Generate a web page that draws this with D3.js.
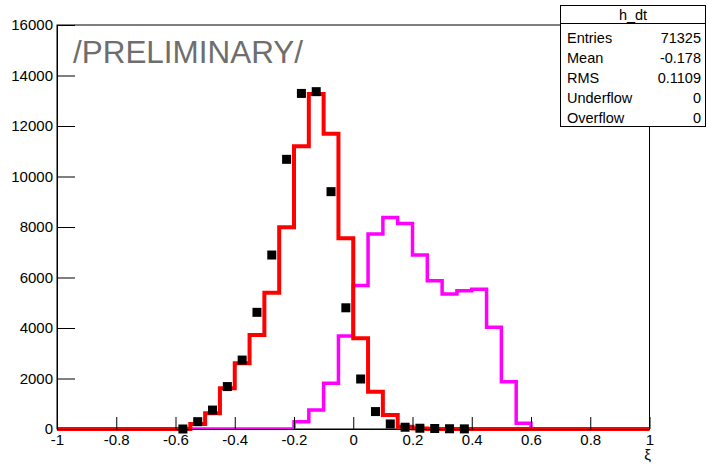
<!DOCTYPE html>
<html>
<head>
<meta charset="utf-8">
<script src="https://cdn.jsdelivr.net/npm/d3@7"></script>
<style>
  body { margin: 0; background: #fff; }
  text { font-family: "Liberation Sans", Arial, sans-serif; }
</style>
</head>
<body>
<script>
// histogram h_dt : 40 bins from -1 to 1
const xMin = -1, xMax = 1, nBins = 40;

// red histogram (bin contents, left to right)
const redCounts = [
  0, 0, 0, 0, 0, 0, 0, 0, 0, 200,
  620, 1610, 2600, 3720, 5400, 7990, 11200, 13270, 11690, 7550,
  3590, 1480, 550, 90, 20, 0, 0, 0, 0, 0,
  0, 0, 0, 0, 0, 0, 0, 0, 0, 0
];

// magenta histogram
const magentaCounts = [
  0, 0, 0, 0, 0, 0, 0, 0, 0, 0,
  0, 0, 0, 0, 0, 0, 290, 750, 1810, 3680,
  5680, 7720, 8380, 8140, 6890, 5870, 5350, 5480, 5530, 4030,
  1870, 230, 0, 0, 0, 0, 0, 0, 0, 0
];

// black markers at bin centres
const markerX = [-0.575, -0.525, -0.475, -0.425, -0.375, -0.325, -0.275, -0.225, -0.175, -0.125,
  -0.075, -0.025, 0.025, 0.075, 0.125, 0.175, 0.225, 0.275, 0.325, 0.375];
const markerY = [0, 290, 750, 1680, 2730, 4620, 6890, 10680, 13290, 13360,
  9400, 4800, 1980, 690, 200, 70, 30, 20, 10, 5];

const statLabels = ["Entries", "Mean", "RMS", "Underflow", "Overflow"];
const statValues = ["71325", "-0.178", "0.1109", "0", "0"];

const xTicks = [-1, -0.8, -0.6, -0.4, -0.2, 0, 0.2, 0.4, 0.6, 0.8, 1];
const yTicks = [0, 2000, 4000, 6000, 8000, 10000, 12000, 14000, 16000];

const width = 707, height = 466;
const fLeft = 57, fRight = 649.5, fTop = 25, fBottom = 429;

const svg = d3.select("body").append("svg")
  .attr("width", width)
  .attr("height", height);

const x = d3.scaleLinear().domain([xMin, xMax]).range([fLeft, fRight]);
const y = d3.scaleLinear().domain([0, 16000]).range([fBottom, fTop]);

svg.append("defs").append("clipPath").attr("id", "frameClip")
  .append("rect")
  .attr("x", fLeft).attr("y", fTop)
  .attr("width", fRight - fLeft).attr("height", fBottom - fTop);

// frame
svg.append("rect")
  .attr("x", fLeft).attr("y", fTop)
  .attr("width", fRight - fLeft).attr("height", fBottom - fTop)
  .attr("fill", "none")
  .attr("stroke", "#000")
  .attr("stroke-width", 1);

const binW = (xMax - xMin) / nBins;
const stepLine = d3.line()
  .x((d) => x(d[0]))
  .y((d) => y(d[1]))
  .curve(d3.curveStepAfter);

function histPoints(counts) {
  const pts = counts.map((c, i) => [xMin + i * binW, c]);
  pts.push([xMax, counts[counts.length - 1]]);
  return pts;
}

// magenta first, clipped by the frame
svg.append("path")
  .attr("d", stepLine(histPoints(magentaCounts)))
  .attr("fill", "none")
  .attr("stroke", "#ff00ff")
  .attr("stroke-width", 3.5)
  .attr("clip-path", "url(#frameClip)");

svg.append("path")
  .attr("d", stepLine(histPoints(redCounts)))
  .attr("fill", "none")
  .attr("stroke", "#ff0000")
  .attr("stroke-width", 4);

// axes (ticks pointing into the frame)
const fmt = (d) => String(d);

const xAxis = svg.append("g").attr("transform", `translate(0,${fBottom})`);
xAxis.call(d3.axisBottom(x)
  .tickValues(d3.range(0, 41).map((i) => -1 + i * 0.05))
  .tickSize(-6).tickSizeOuter(0).tickFormat(""));
xAxis.call(d3.axisBottom(x)
  .tickValues(xTicks)
  .tickSize(-12).tickSizeOuter(0).tickPadding(5).tickFormat(fmt));

const yAxis = svg.append("g").attr("transform", `translate(${fLeft},0)`);
yAxis.call(d3.axisLeft(y)
  .tickValues(d3.range(0, 33).map((i) => i * 500))
  .tickSize(-9).tickSizeOuter(0).tickFormat(""));
yAxis.call(d3.axisLeft(y)
  .tickValues(yTicks)
  .tickSize(-18).tickSizeOuter(0).tickPadding(4).tickFormat(fmt));

svg.selectAll(".tick text")
  .attr("font-family", "Liberation Sans, Arial, sans-serif")
  .attr("font-size", 15)
  .attr("fill", "#000");
svg.selectAll(".domain").attr("stroke", "#000");
svg.selectAll(".tick line").attr("stroke", "#000");

// markers
svg.append("g").selectAll("rect")
  .data(markerX)
  .join("rect")
  .attr("x", (d) => x(d) - 4.5)
  .attr("y", (d, i) => y(markerY[i]) - 4.5)
  .attr("width", 9)
  .attr("height", 9)
  .attr("fill", "#000");

// axis title
svg.append("text")
  .attr("x", 651)
  .attr("y", 460)
  .attr("text-anchor", "end")
  .attr("font-size", 15)
  .text("ξ");

// watermark
svg.append("text")
  .attr("x", 73)
  .attr("y", 62.5)
  .attr("font-size", 32)
  .attr("fill", "#6e6e6e")
  .attr("textLength", 230)
  .attr("lengthAdjust", "spacingAndGlyphs")
  .text("/PRELIMINARY/");

// stats box
const stats = svg.append("g");
stats.append("rect")
  .attr("x", 560.5).attr("y", 5.5)
  .attr("width", 145).attr("height", 121)
  .attr("fill", "#fff")
  .attr("stroke", "#000");
stats.append("line")
  .attr("x1", 560.5).attr("x2", 705.5)
  .attr("y1", 23.5).attr("y2", 23.5)
  .attr("stroke", "#000");
stats.append("text")
  .attr("x", 633).attr("y", 20)
  .attr("text-anchor", "middle")
  .attr("font-size", 14.5)
  .text("h_dt");
stats.selectAll("text.lab")
  .data(statLabels)
  .join("text")
  .attr("class", "lab")
  .attr("x", 567)
  .attr("y", (d, i) => 43 + i * 20)
  .attr("font-size", 14.5)
  .text((d) => d);
stats.selectAll("text.val")
  .data(statValues)
  .join("text")
  .attr("class", "val")
  .attr("x", 701)
  .attr("y", (d, i) => 43 + i * 20)
  .attr("text-anchor", "end")
  .attr("font-size", 14.5)
  .text((d) => d);
</script>
</body>
</html>
